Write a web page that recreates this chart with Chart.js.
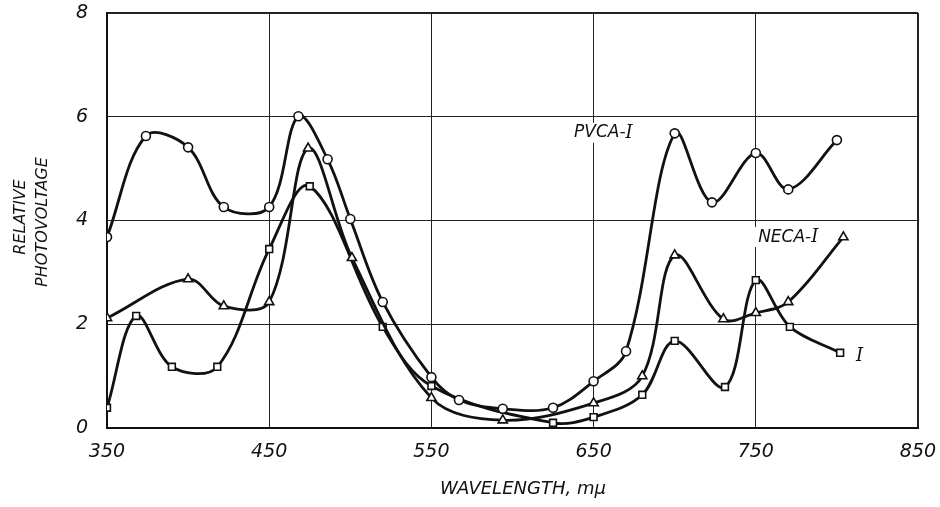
<!DOCTYPE html>
<html>
<head>
<meta charset="utf-8">
<script src="https://cdn.jsdelivr.net/npm/chart.js@4/dist/chart.umd.min.js"></script>
<style>
  html, body { margin: 0; padding: 0; background: #ffffff; }
  #wrap { width: 940px; height: 507px; }
</style>
</head>
<body>
<div id="wrap"><canvas id="c" width="940" height="507"></canvas></div>
<script>
// ---- data ----
const pvcaX = [350, 374, 400, 422, 450, 468, 486, 500, 520, 550, 567, 594, 625, 650, 670, 700, 723, 750, 770, 800];
const pvcaY = [3.68, 5.63, 5.41, 4.26, 4.26, 6.01, 5.18, 4.03, 2.43, 0.98, 0.54, 0.37, 0.39, 0.90, 1.48, 5.68, 4.35, 5.30, 4.60, 5.55];

const necaX = [350, 400, 422, 450, 474, 501, 550, 594, 650, 680, 700, 730, 750, 770, 804];
const necaY = [2.12, 2.87, 2.35, 2.43, 5.39, 3.28, 0.58, 0.15, 0.48, 1.00, 3.33, 2.10, 2.22, 2.43, 3.68];

const iX = [350, 368, 390, 418, 450, 475, 520, 550, 625, 650, 680, 700, 731, 750, 771, 802];
const iY = [0.39, 2.16, 1.18, 1.18, 3.45, 4.66, 1.95, 0.81, 0.10, 0.21, 0.64, 1.68, 0.79, 2.85, 1.95, 1.45];

const seriesNames = ["PVCA-I", "NECA-I", "I"];
const xTicks = [350, 450, 550, 650, 750, 850];
const yTicks = [0, 2, 4, 6, 8];
const xTitle = "WAVELENGTH, m\u03bc";
const yTitle = ["RELATIVE", "PHOTOVOLTAGE"];

const toPts = (xs, ys) => xs.map((x, i) => ({ x: x, y: ys[i] }));

const FONT = "'DejaVu Sans', 'Liberation Sans', sans-serif";
const SERIF = "'DejaVu Serif', 'Liberation Serif', serif";

function ds(label, xs, ys, style, r) {
  return {
    label: label,
    data: toPts(xs, ys),
    borderColor: '#111',
    borderWidth: 2.8,
    tension: 0.35,
    pointStyle: style,
    pointRadius: r,
    pointBorderWidth: 1.6,
    pointBackgroundColor: '#fff',
    pointBorderColor: '#111',
    fill: false
  };
}

// draw a label whose trailing "I" is set in a serif italic (as in the original lettering)
function drawLabel(ctx, text, cx, cy) {
  const fSans = 'italic 17px ' + FONT;
  const fSerif = 'italic 18px ' + SERIF;
  const head = text.endsWith('I') ? text.slice(0, -1) : text;
  const tail = text.endsWith('I') ? 'I' : '';
  ctx.font = fSans;
  const w1 = ctx.measureText(head).width;
  ctx.font = fSerif;
  const w2 = ctx.measureText(tail).width;
  const w = w1 + w2;
  const x0 = cx - w / 2;
  ctx.fillStyle = '#fff';
  ctx.fillRect(x0 - 4, cy - 10, w + 8, 20);
  ctx.fillStyle = '#111';
  ctx.textAlign = 'left';
  ctx.textBaseline = 'middle';
  ctx.font = fSans;
  ctx.fillText(head, x0, cy);
  ctx.font = fSerif;
  ctx.fillText(tail, x0 + w1, cy);
}

const textPlugin = {
  id: 'texts',
  beforeDatasetsDraw(chart) {
    const ctx = chart.ctx;
    const xs = chart.scales.x, ys = chart.scales.y;
    ctx.save();
    drawLabel(ctx, seriesNames[0], xs.getPixelForValue(656), ys.getPixelForValue(5.69));
    drawLabel(ctx, seriesNames[1], xs.getPixelForValue(770), ys.getPixelForValue(3.68));
    drawLabel(ctx, seriesNames[2], xs.getPixelForValue(814), ys.getPixelForValue(1.39));
    ctx.restore();
  },
  afterDraw(chart) {
    const ctx = chart.ctx;
    ctx.save();
    ctx.fillStyle = '#111';
    ctx.textAlign = 'center';
    ctx.textBaseline = 'middle';
    ctx.font = 'italic 18px ' + FONT;
    ctx.fillText(xTitle, 523, 489);
    ctx.font = 'italic 16px ' + FONT;
    ctx.translate(21, 217);
    ctx.rotate(-Math.PI / 2);
    ctx.fillText(yTitle[0], 0, 0);
    ctx.fillText(yTitle[1], -5, 22);
    ctx.restore();
  }
};

new Chart(document.getElementById('c'), {
  type: 'line',
  data: {
    datasets: [
      ds(seriesNames[0], pvcaX, pvcaY, 'circle', 4.5),
      ds(seriesNames[1], necaX, necaY, 'triangle', 5.3),
      ds(seriesNames[2], iX, iY, 'rect', 4.8)
    ]
  },
  options: {
    responsive: false,
    animation: false,
    layout: { padding: { left: 0, right: 22, top: 13, bottom: 0 } },
    plugins: { legend: { display: false }, tooltip: { enabled: false } },
    scales: {
      x: {
        type: 'linear',
        min: 350, max: 850,
        afterBuildTicks(scale) { scale.ticks = xTicks.map(v => ({ value: v })); },
        afterFit(scale) {
          scale.height = 79;
          scale.paddingLeft = 0; scale.paddingRight = 0;
        },
        ticks: {
          color: '#111',
          padding: 13,
          maxRotation: 0,
          font: { family: FONT, size: 19, style: 'italic' }
        },
        grid: {
          color: '#222',
          lineWidth: (c) => (c.tick && c.tick.value === 850) ? 2 : 1,
          drawTicks: false
        },
        border: { color: '#111', width: 2 }
      },
      y: {
        type: 'linear',
        min: 0, max: 8,
        afterBuildTicks(scale) { scale.ticks = yTicks.map(v => ({ value: v })); },
        afterFit(scale) {
          scale.width = 107;
          scale.paddingTop = 0; scale.paddingBottom = 0;
        },
        ticks: {
          color: '#111',
          padding: 19,
          font: { family: FONT, size: 19, style: 'italic' }
        },
        grid: {
          color: '#222',
          lineWidth: (c) => (c.tick && c.tick.value === 8) ? 2 : 1,
          drawTicks: false
        },
        border: { color: '#111', width: 2 }
      }
    }
  },
  plugins: [textPlugin]
});
</script>
</body>
</html>
